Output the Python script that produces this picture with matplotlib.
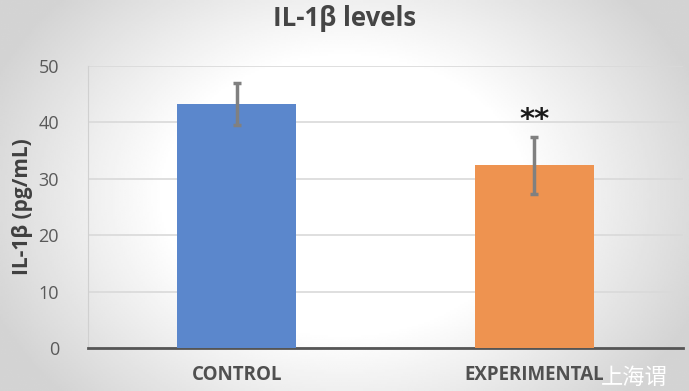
import numpy as np
import matplotlib.pyplot as plt

plt.rcParams['font.family'] = ['Open Sans', 'Noto Sans CJK SC', 'DejaVu Sans']

# data
groups = ['CONTROL', 'EXPERIMENTAL']
means = [43.3, 32.4]
errors = [3.7, 5.1]
colors = ['#5b87cc', '#ee9350']
ticks = [0, 10, 20, 30, 40, 50]

fig = plt.figure(figsize=(6.89, 3.91), dpi=100)

# soft grey vignette behind everything, like the photographed slide
bg = fig.add_axes([0, 0, 1, 1], zorder=-10)
yy, xx = np.mgrid[-1:1:200j, -1:1:350j]
r = np.sqrt((xx * 0.95) ** 2 + (yy * 0.7) ** 2)
shade = 1 - 0.17 * np.clip((r - 0.5) / 0.55, 0, 1)
bg.imshow(shade, cmap='gray', vmin=0, vmax=1, aspect='auto', extent=[0, 1, 0, 1])
bg.axis('off')

ax = fig.add_axes([0.128, 0.110, 0.863, 0.721])
ax.patch.set_alpha(0)
x = np.arange(len(groups))
ax.bar(x, means, width=0.4, color=colors, zorder=3)
ax.errorbar(x, means, yerr=errors, fmt='none', ecolor='#808080', elinewidth=2.5,
            capsize=3, capthick=2.5, zorder=4)

ax.text(1, 38.0, '**', ha='center', va='bottom', fontsize=21, fontweight='bold',
        color='#1a1a1a', family='DejaVu Sans')

ax.set_xlim(-0.5, 1.5)
ax.set_ylim(0, 50)
ax.set_yticks(ticks)
ax.yaxis.grid(True, color='#d9d9d9', linewidth=1.2, zorder=0)
ax.set_xticks(x)
ax.set_xticklabels(groups, fontsize=13.5, fontweight='bold', color='#505050')
ax.tick_params(axis='y', labelsize=13, colors='#595959', length=0, pad=21)
ax.tick_params(axis='x', length=0, pad=12)
for s in ['top', 'right']:
    ax.spines[s].set_visible(False)
ax.spines['left'].set_color('#d0d0d0')
ax.spines['bottom'].set_color('#555555')
ax.spines['bottom'].set_linewidth(2)

ax.set_ylabel('IL-1β (pg/mL)', fontsize=15, fontweight='bold', color='#404040', labelpad=4)
fig.text(0.5, 0.953, 'IL-1β levels', ha='center', va='center', fontsize=18.5,
         fontweight='bold', color='#454545')

# watermark at the corner
fig.text(0.872, 0.033, '上海谓', fontsize=16, color='white', ha='left', va='center')

fig.savefig('out.png', dpi=100)
